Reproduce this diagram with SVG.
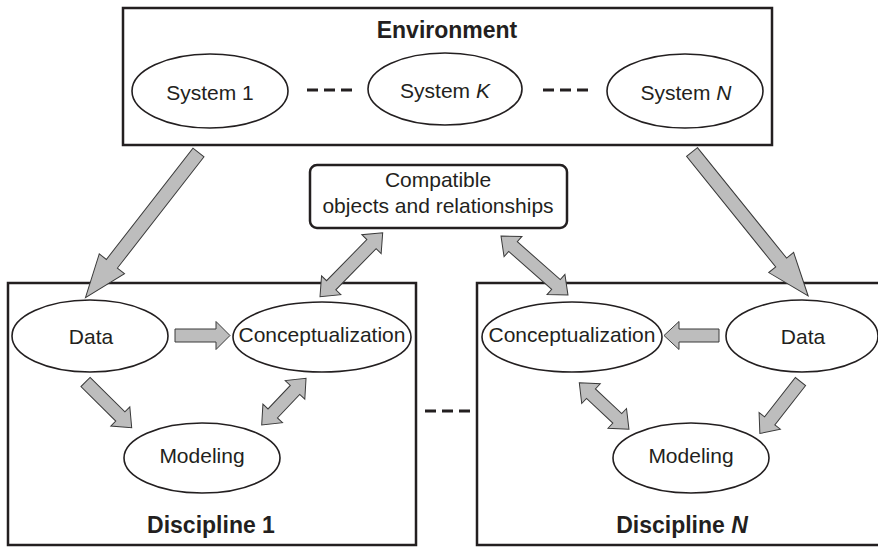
<svg xmlns="http://www.w3.org/2000/svg" width="878" height="547" viewBox="0 0 878 547">
<style>
.box{fill:#fff;stroke:#231f20;stroke-width:2.5}
.ell{fill:#fff;stroke:#231f20;stroke-width:1.6}
.t{font-family:"Liberation Sans",Arial,sans-serif;font-size:21px;fill:#231f20;text-anchor:middle}
.b{font-family:"Liberation Sans",Arial,sans-serif;font-size:23px;font-weight:bold;fill:#231f20;text-anchor:middle}
.arr{fill:#bdbdbd;stroke:#3a3a3a;stroke-width:1;stroke-linejoin:miter}
.dash{stroke:#231f20;stroke-width:3;stroke-dasharray:11 6;fill:none}
</style>
<rect width="878" height="547" fill="#fff"/>
<g id="environment">
<rect class="box" x="123" y="8" width="649" height="137"/>
<text class="b" x="447" y="38">Environment</text>
</g>
<g id="system1">
<ellipse class="ell" cx="210" cy="91" rx="78" ry="37"/>
<text class="t" x="210" y="100">System 1</text>
</g>
<g id="systemK">
<ellipse class="ell" cx="445" cy="89" rx="77" ry="36"/>
<text class="t" x="445" y="98">System <tspan font-style="italic">K</tspan></text>
</g>
<g id="systemN">
<ellipse class="ell" cx="685" cy="91" rx="78" ry="37"/>
<text class="t" x="686" y="100">System <tspan font-style="italic">N</tspan></text>
</g>
<g id="compatible">
<rect class="box" x="310" y="165" width="257" height="63" rx="7" stroke-width="2"/>
<text class="t" x="438" y="187">Compatible</text>
<text class="t" x="438" y="213">objects and relationships</text>
</g>
<g id="discipline1">
<rect class="box" x="8" y="283" width="408" height="262"/>
<text class="b" x="211" y="533">Discipline 1</text>
</g>
<g id="disciplineN">
<rect class="box" x="477" y="283" width="420" height="262"/>
<text class="b" x="682" y="533">Discipline <tspan font-style="italic">N</tspan></text>
</g>
<g id="data1">
<ellipse class="ell" cx="90" cy="336" rx="78" ry="36"/>
<text class="t" x="91" y="344">Data</text>
</g>
<g id="conc1">
<ellipse class="ell" cx="322" cy="337" rx="89" ry="35"/>
<text class="t" x="322" y="342">Conceptualization</text>
</g>
<g id="model1">
<ellipse class="ell" cx="202" cy="458" rx="78" ry="35"/>
<text class="t" x="202" y="463">Modeling</text>
</g>
<g id="dataN">
<ellipse class="ell" cx="802" cy="336" rx="76" ry="36"/>
<text class="t" x="803" y="344">Data</text>
</g>
<g id="concN">
<ellipse class="ell" cx="572" cy="337" rx="90" ry="35"/>
<text class="t" x="572" y="342">Conceptualization</text>
</g>
<g id="modelN">
<ellipse class="ell" cx="691" cy="458" rx="78" ry="35"/>
<text class="t" x="691" y="463">Modeling</text>
</g>
<g id="connectors">
<line class="dash" x1="307" y1="90" x2="356" y2="90"/>
<line class="dash" x1="543" y1="90" x2="592" y2="90"/>
<line class="dash" x1="425" y1="411" x2="473" y2="411" stroke-dasharray="11 7"/>
<!-- env -> data1 -->
<polygon class="arr" transform="translate(198.5,152.5) rotate(127.9)" points="0,-7 141,-7 141,-16 184,0 141,16 141,7 0,7"/>
<!-- env -> dataN -->
<polygon class="arr" transform="translate(692,152) rotate(51.1)" points="0,-7 142,-7 142,-16 185,0 142,16 142,7 0,7"/>
<!-- data1 -> conc1 -->
<polygon class="arr" transform="translate(175,335.5) rotate(0)" points="0,-6.5 41,-6.5 41,-14 55,0 41,14 41,6.5 0,6.5"/>
<!-- dataN -> concN -->
<polygon class="arr" transform="translate(719,335.5) rotate(180)" points="0,-6.5 40,-6.5 40,-14 55,0 40,14 40,6.5 0,6.5"/>
<!-- data1 -> model1 -->
<polygon class="arr" transform="translate(85.5,382) rotate(44.7)" points="0,-6.5 49,-6.5 49,-13.5 65,0 49,13.5 49,6.5 0,6.5"/>
<!-- dataN -> modelN -->
<polygon class="arr" transform="translate(800.5,381.5) rotate(128)" points="0,-6.5 50,-6.5 50,-13.5 66,0 50,13.5 50,6.5 0,6.5"/>
<!-- conc1 <-> model1 -->
<polygon class="arr" transform="translate(261.7,425) rotate(-46.5)" points="0,0 16,-13.5 16,-6.5 48.4,-6.5 48.4,-13.5 64.4,0 48.4,13.5 48.4,6.5 16,6.5 16,13.5"/>
<!-- concN <-> modelN -->
<polygon class="arr" transform="translate(579.3,382.7) rotate(43.2)" points="0,0 16,-13.5 16,-6.5 52.1,-6.5 52.1,-13.5 68.1,0 52.1,13.5 52.1,6.5 16,6.5 16,13.5"/>
<!-- conc1 <-> compatible -->
<polygon class="arr" transform="translate(320,296.7) rotate(-45.6)" points="0,0 16,-13.5 16,-6.5 73.6,-6.5 73.6,-13.5 89.6,0 73.6,13.5 73.6,6.5 16,6.5 16,13.5"/>
<!-- compatible <-> concN -->
<polygon class="arr" transform="translate(501,236) rotate(41.4)" points="0,0 16,-13.5 16,-6.5 73.3,-6.5 73.3,-13.5 89.3,0 73.3,13.5 73.3,6.5 16,6.5 16,13.5"/>
</g>
</svg>
